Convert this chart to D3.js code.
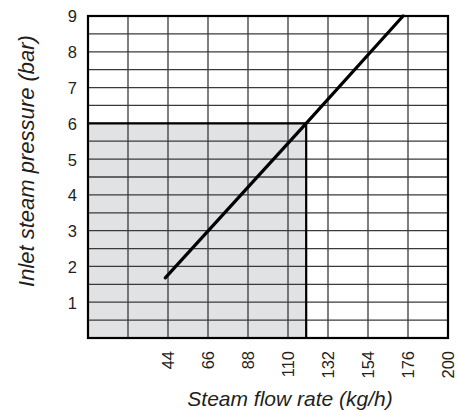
<!DOCTYPE html>
<html>
<head>
<meta charset="utf-8">
<script src="https://cdn.jsdelivr.net/npm/d3@7"></script>
<style>
  body { margin: 0; background: #fff; }
  text { font-family: "Liberation Sans", Arial, sans-serif; fill: #231f20; }
</style>
</head>
<body>
<div id="chart"></div>
<script>
// grid positions on the flow axis (kg/h) and their printed labels
var xTicks = [44, 66, 88, 110, 132, 154, 176, 198];
var xTickLabels = ["44", "66", "88", "110", "132", "154", "176", "200"];
var xGrid = [22, 44, 66, 88, 110, 132, 154, 176];
var yTicks = [1, 2, 3, 4, 5, 6, 7, 8, 9];
var yGrid = [0.5, 1, 1.5, 2, 2.5, 3, 3.5, 4, 4.5, 5, 5.5, 6, 6.5, 7, 7.5, 8, 8.5];
// characteristic line: flow vs pressure
var lineFlow = [42.5, 120, 173.3];
var linePressure = [1.68, 6, 9];
// highlighted operating point
var opFlow = 120, opPressure = 6;

var width = 459, height = 412;
var margin = {top: 16, right: 10, bottom: 74, left: 88};

var svg = d3.select("#chart").append("svg")
  .attr("width", width)
  .attr("height", height);

var x = d3.scaleLinear().domain([0, 198]).range([margin.left, width - margin.right - 1]);
var y = d3.scaleLinear().domain([0, 9]).range([height - margin.bottom, margin.top]);

// shaded area up to the operating point
svg.append("rect")
  .attr("x", x(0))
  .attr("y", y(opPressure))
  .attr("width", x(opFlow) - x(0))
  .attr("height", y(0) - y(opPressure))
  .attr("fill", "#e1e2e4");

// grid
svg.append("g").selectAll("line")
  .data(xGrid)
  .join("line")
  .attr("x1", function(d) { return x(d); })
  .attr("x2", function(d) { return x(d); })
  .attr("y1", y(0))
  .attr("y2", y(9))
  .attr("stroke", "#3a3a3a")
  .attr("stroke-width", 1.3);

svg.append("g").selectAll("line")
  .data(yGrid)
  .join("line")
  .attr("x1", x(0))
  .attr("x2", x(198))
  .attr("y1", function(d) { return y(d); })
  .attr("y2", function(d) { return y(d); })
  .attr("stroke", "#3a3a3a")
  .attr("stroke-width", 1.3);

// operating point borders
svg.append("path")
  .attr("d", "M" + x(0) + "," + y(opPressure) + "H" + x(opFlow) + "V" + y(0))
  .attr("fill", "none")
  .attr("stroke", "#000")
  .attr("stroke-width", 2.2);

// frame
svg.append("rect")
  .attr("x", x(0))
  .attr("y", y(9))
  .attr("width", x(198) - x(0))
  .attr("height", y(0) - y(9))
  .attr("fill", "none")
  .attr("stroke", "#000")
  .attr("stroke-width", 2.2);

// the curve
var pts = lineFlow.map(function(d, i) { return [d, linePressure[i]]; });
svg.append("path")
  .datum(pts)
  .attr("d", d3.line().x(function(d) { return x(d[0]); }).y(function(d) { return y(d[1]); }))
  .attr("fill", "none")
  .attr("stroke", "#000")
  .attr("stroke-width", 3.2)
  .attr("stroke-linecap", "round");

// y axis
var yAxis = svg.append("g")
  .attr("transform", "translate(" + (x(0) - 11) + ",0)")
  .call(d3.axisLeft(y).tickValues(yTicks).tickSize(0).tickPadding(0));
yAxis.select(".domain").remove();
yAxis.selectAll("text")
  .style("font-size", "16.5px")
  .attr("dy", "0.36em");

// x axis
var xAxis = svg.append("g")
  .attr("transform", "translate(0," + (y(0) + 13) + ")")
  .call(d3.axisBottom(x).tickValues(xTicks).tickSize(0)
    .tickFormat(function(d, i) { return xTickLabels[i]; }));
xAxis.select(".domain").remove();
xAxis.selectAll("text")
  .style("font-size", "16.5px")
  .style("text-anchor", "end")
  .attr("transform", "rotate(-90)")
  .attr("x", 0)
  .attr("y", 0)
  .attr("dy", "0.36em");

// axis titles
svg.append("text")
  .attr("x", 290)
  .attr("y", 406)
  .attr("text-anchor", "middle")
  .style("font-size", "21px")
  .style("font-style", "italic")
  .text("Steam flow rate (kg/h)");

svg.append("text")
  .attr("transform", "translate(34,161)rotate(-90)")
  .attr("text-anchor", "middle")
  .style("font-size", "22px")
  .style("font-style", "italic")
  .text("Inlet steam pressure (bar)");
</script>
</body>
</html>
